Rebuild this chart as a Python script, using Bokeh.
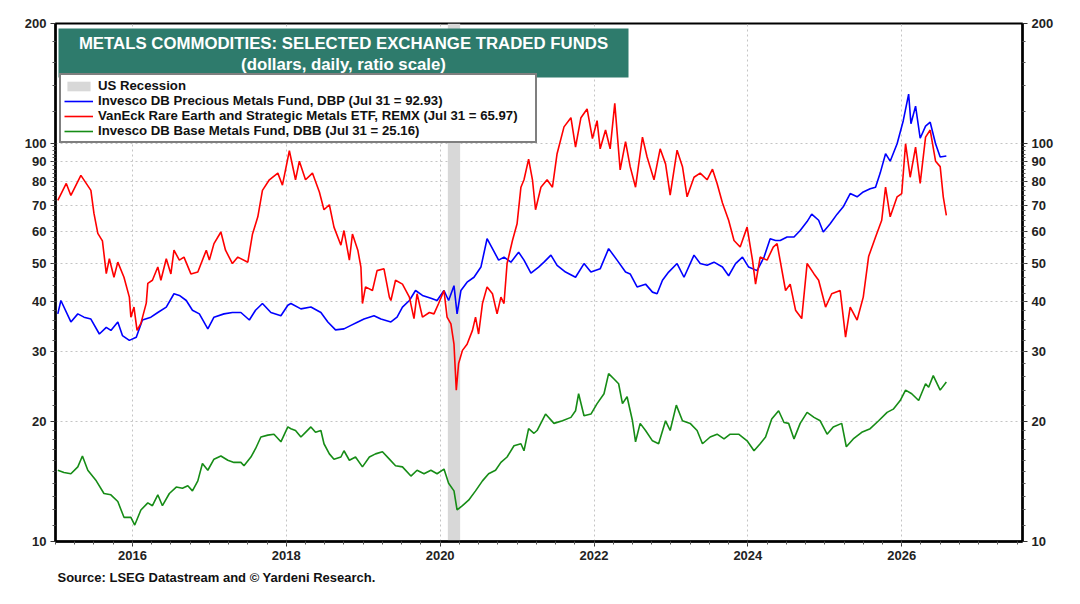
import math
from bokeh.plotting import figure
from bokeh.models import (FixedTicker, PrintfTickFormatter, LogAxis, BoxAnnotation,
                          Label, Legend, LegendItem, Title)
from bokeh.embed import file_html
from bokeh.resources import INLINE

# ---------------- data ----------------
remx_t = [2015.03, 2015.14, 2015.20, 2015.33, 2015.46, 2015.50, 2015.55, 2015.61, 2015.66, 2015.70,
          2015.76, 2015.81, 2015.89, 2015.96, 2015.98, 2016.02, 2016.06, 2016.11, 2016.18, 2016.20,
          2016.26, 2016.33, 2016.37, 2016.44, 2016.50, 2016.54, 2016.61, 2016.67, 2016.76, 2016.85,
          2016.96, 2017.00, 2017.06, 2017.15, 2017.21, 2017.30, 2017.37, 2017.50, 2017.56, 2017.63,
          2017.69, 2017.78, 2017.89, 2017.95, 2018.04, 2018.12, 2018.17, 2018.25, 2018.34, 2018.43,
          2018.49, 2018.56, 2018.62, 2018.71, 2018.75, 2018.82, 2018.86, 2018.93, 2018.97, 2018.99,
          2019.03, 2019.12, 2019.18, 2019.27, 2019.34, 2019.36, 2019.42, 2019.51, 2019.60, 2019.66,
          2019.70, 2019.77, 2019.86, 2019.92, 2019.98, 2020.05, 2020.09, 2020.14, 2020.18, 2020.21,
          2020.24, 2020.29, 2020.35, 2020.42, 2020.46, 2020.50, 2020.55, 2020.61, 2020.68, 2020.74,
          2020.79, 2020.83, 2020.87, 2020.94, 2021.00, 2021.05, 2021.09, 2021.15, 2021.20, 2021.24,
          2021.31, 2021.39, 2021.46, 2021.52, 2021.61, 2021.70, 2021.76, 2021.83, 2021.91, 2021.98,
          2022.04, 2022.08, 2022.15, 2022.21, 2022.27, 2022.34, 2022.41, 2022.47, 2022.54, 2022.63,
          2022.69, 2022.78, 2022.86, 2022.93, 2022.99, 2023.08, 2023.15, 2023.21, 2023.30, 2023.38,
          2023.47, 2023.54, 2023.60, 2023.67, 2023.75, 2023.82, 2023.90, 2023.99, 2024.06, 2024.10,
          2024.16, 2024.25, 2024.33, 2024.38, 2024.49, 2024.55, 2024.62, 2024.70, 2024.77, 2024.86,
          2024.92, 2025.01, 2025.09, 2025.20, 2025.27, 2025.33, 2025.42, 2025.50, 2025.57, 2025.66,
          2025.74, 2025.79, 2025.85, 2025.94, 2026.00, 2026.05, 2026.11, 2026.18, 2026.24, 2026.31,
          2026.37, 2026.44, 2026.50, 2026.54, 2026.58]
remx_v = [71.9, 79.3, 74.0, 83.1, 76.2, 66.7, 59.4, 56.9, 47.1, 51.3,
          46.1, 50.3, 46.1, 41.1, 36.6, 38.8, 33.9, 35.3, 39.7, 44.5,
          45.3, 48.9, 45.3, 51.3, 47.0, 53.9, 50.9, 51.8, 47.0, 47.5,
          53.9, 50.9, 56.0, 59.9, 53.9, 49.9, 51.8, 50.3, 59.1, 65.4,
          76.2, 81.0, 84.2, 78.5, 95.8, 81.0, 90.2, 81.0, 84.2, 75.5,
          68.1, 70.1, 61.6, 55.5, 60.4, 50.9, 59.2, 53.9, 48.9, 39.6,
          43.6, 42.7, 47.9, 48.4, 41.1, 40.3, 45.3, 44.3, 41.1, 36.3,
          41.9, 36.6, 37.6, 37.3, 39.6, 42.7, 36.6, 35.2, 31.3, 24.0,
          28.0, 30.2, 31.3, 33.9, 36.6, 33.2, 39.6, 43.6, 41.9, 37.3,
          41.1, 39.6, 49.9, 57.0, 62.8, 77.6, 81.0, 91.3, 81.0, 68.1,
          77.6, 81.0, 77.6, 94.2, 110.0, 116.0, 97.8, 116.0, 122.0, 102.8,
          114.0, 96.9, 108.0, 96.9, 126.0, 85.8, 101.0, 87.4, 77.6, 103.7,
          92.4, 81.0, 96.9, 88.8, 74.1, 96.1, 87.4, 73.4, 82.2, 84.2,
          81.0, 86.1, 79.3, 70.8, 64.1, 57.0, 54.9, 61.6, 50.9, 44.3,
          51.8, 50.9, 54.9, 56.0, 42.7, 44.3, 38.1, 36.3, 49.9, 47.0,
          45.3, 38.8, 41.9, 42.7, 32.6, 38.8, 36.0, 41.1, 52.0, 58.2,
          64.1, 77.6, 65.4, 73.4, 74.8, 99.8, 82.2, 97.8, 79.3, 103.7,
          108.0, 90.2, 87.4, 73.4, 65.97]

dbp_t = [2015.03, 2015.07, 2015.20, 2015.29, 2015.37, 2015.46, 2015.57, 2015.66, 2015.72, 2015.81,
         2015.87, 2015.96, 2016.05, 2016.13, 2016.24, 2016.33, 2016.44, 2016.54, 2016.61, 2016.70,
         2016.78, 2016.87, 2016.98, 2017.06, 2017.19, 2017.30, 2017.41, 2017.52, 2017.60, 2017.69,
         2017.80, 2017.93, 2018.02, 2018.06, 2018.19, 2018.32, 2018.45, 2018.54, 2018.64, 2018.75,
         2018.84, 2018.93, 2019.01, 2019.14, 2019.23, 2019.36, 2019.44, 2019.51, 2019.60, 2019.68,
         2019.77, 2019.88, 2019.96, 2020.05, 2020.11, 2020.18, 2020.22, 2020.27, 2020.35, 2020.44,
         2020.53, 2020.61, 2020.68, 2020.76, 2020.83, 2020.92, 2021.02, 2021.09, 2021.18, 2021.28,
         2021.35, 2021.44, 2021.52, 2021.63, 2021.76, 2021.87, 2021.96, 2022.08, 2022.19, 2022.30,
         2022.41, 2022.47, 2022.56, 2022.67, 2022.76, 2022.82, 2022.89, 2022.97, 2023.08, 2023.17,
         2023.30, 2023.38, 2023.47, 2023.56, 2023.67, 2023.75, 2023.84, 2023.93, 2024.01, 2024.12,
         2024.21, 2024.29, 2024.36, 2024.42, 2024.51, 2024.60, 2024.68, 2024.77, 2024.83, 2024.92,
         2024.98, 2025.07, 2025.16, 2025.24, 2025.33, 2025.42, 2025.50, 2025.59, 2025.66, 2025.72,
         2025.79, 2025.85, 2025.94, 2026.02, 2026.09, 2026.12, 2026.18, 2026.24, 2026.31, 2026.37,
         2026.44, 2026.50, 2026.58]
dbp_v = [37.3, 40.3, 35.6, 37.3, 36.6, 36.2, 33.2, 34.5, 33.9, 35.6,
         32.9, 32.0, 32.6, 36.0, 36.6, 37.6, 38.8, 41.9, 41.5, 40.3,
         38.1, 37.3, 34.2, 36.6, 37.3, 37.6, 37.6, 36.0, 38.1, 39.6,
         37.6, 36.9, 39.2, 39.6, 38.4, 38.8, 37.6, 35.6, 34.0, 34.2,
         34.9, 35.6, 36.2, 36.9, 36.2, 35.6, 36.6, 38.8, 40.3, 42.7,
         41.5, 40.8, 40.3, 42.7, 40.3, 43.9, 37.3, 42.7, 44.8, 46.1,
         48.9, 57.6, 54.4, 50.9, 51.8, 50.3, 53.3, 50.9, 47.2, 48.9,
         50.3, 52.4, 49.4, 47.5, 46.1, 49.9, 47.5, 48.4, 54.4, 50.9,
         47.5, 47.0, 43.6, 44.3, 42.3, 41.9, 45.3, 47.5, 49.9, 46.1,
         52.4, 49.9, 49.4, 50.3, 48.9, 46.5, 49.9, 51.8, 48.9, 47.9,
         51.8, 57.6, 57.0, 57.0, 58.2, 58.2, 60.4, 63.6, 66.4, 64.1,
         59.9, 62.8, 66.4, 69.3, 74.8, 73.4, 75.5, 76.9, 77.6, 84.2,
         94.2, 90.2, 99.8, 114.0, 133.0, 112.0, 124.0, 103.0, 110.5, 113.0,
         99.8, 92.4, 92.93]

dbb_t = [2015.03, 2015.11, 2015.20, 2015.29, 2015.35, 2015.42, 2015.53, 2015.63, 2015.72, 2015.81,
         2015.89, 2015.98, 2016.03, 2016.11, 2016.20, 2016.26, 2016.33, 2016.39, 2016.48, 2016.57,
         2016.65, 2016.72, 2016.78, 2016.85, 2016.91, 2016.98, 2017.06, 2017.15, 2017.24, 2017.32,
         2017.41, 2017.45, 2017.54, 2017.60, 2017.67, 2017.76, 2017.84, 2017.93, 2018.02, 2018.06,
         2018.12, 2018.19, 2018.25, 2018.32, 2018.38, 2018.45, 2018.49, 2018.56, 2018.62, 2018.71,
         2018.75, 2018.82, 2018.90, 2018.99, 2019.08, 2019.16, 2019.25, 2019.34, 2019.42, 2019.51,
         2019.62, 2019.70, 2019.79, 2019.88, 2019.96, 2020.05, 2020.11, 2020.18, 2020.22, 2020.29,
         2020.37, 2020.46, 2020.55, 2020.63, 2020.72, 2020.79, 2020.87, 2020.96, 2021.05, 2021.09,
         2021.15, 2021.22, 2021.26, 2021.37, 2021.48, 2021.59, 2021.70, 2021.76, 2021.80, 2021.87,
         2021.96, 2022.04, 2022.13, 2022.19, 2022.26, 2022.32, 2022.37, 2022.43, 2022.50, 2022.54,
         2022.60, 2022.67, 2022.76, 2022.84, 2022.93, 2022.99, 2023.07, 2023.15, 2023.25, 2023.34,
         2023.41, 2023.51, 2023.60, 2023.69, 2023.77, 2023.88, 2023.99, 2024.08, 2024.16, 2024.23,
         2024.31, 2024.40, 2024.47, 2024.53, 2024.60, 2024.68, 2024.77, 2024.86, 2024.94, 2025.03,
         2025.11, 2025.22, 2025.28, 2025.37, 2025.48, 2025.59, 2025.70, 2025.81, 2025.89, 2025.98,
         2026.05, 2026.13, 2026.22, 2026.31, 2026.35, 2026.41, 2026.50, 2026.58]
dbb_v = [15.1, 14.9, 14.8, 15.4, 16.4, 15.1, 14.2, 13.2, 13.1, 12.6,
         11.5, 11.5, 11.0, 12.0, 12.5, 12.3, 13.1, 12.3, 13.2, 13.7,
         13.6, 13.8, 13.4, 14.2, 15.7, 15.1, 16.1, 16.4, 16.0, 15.8,
         15.8, 15.5, 16.3, 17.1, 18.3, 18.5, 18.6, 17.8, 19.4, 19.2,
         19.0, 18.3, 18.8, 19.4, 18.8, 19.0, 17.6, 16.6, 16.1, 16.3,
         16.9, 16.0, 16.3, 15.4, 16.3, 16.6, 16.8, 16.1, 15.5, 15.4,
         14.6, 15.1, 14.8, 15.1, 14.8, 15.2, 14.0, 13.4, 12.0, 12.3,
         12.7, 13.4, 14.2, 14.8, 15.1, 15.8, 16.3, 17.4, 17.6, 16.9,
         19.2, 18.7, 19.0, 20.9, 19.8, 20.1, 20.5, 21.3, 23.5, 20.7,
         20.9, 22.2, 23.5, 26.4, 25.6, 24.9, 22.2, 23.1, 20.1, 17.8,
         19.8, 19.0, 17.9, 17.6, 20.1, 19.0, 22.0, 20.1, 19.8, 19.0,
         17.6, 18.3, 18.6, 18.1, 18.6, 18.6, 17.9, 16.9, 17.6, 18.3,
         20.3, 21.3, 19.9, 19.8, 18.1, 19.8, 21.1, 20.5, 20.1, 18.6,
         19.4, 19.8, 17.3, 18.1, 18.8, 19.2, 20.1, 21.1, 21.5, 22.6,
         24.0, 23.5, 22.6, 24.9, 24.4, 26.1, 24.0, 25.16]

recession_start = [2020.10]
recession_end = [2020.26]

x_tick_years = [2016, 2018, 2020, 2022, 2024, 2026]
y_tick_values = [10, 20, 30, 40, 50, 60, 70, 80, 90, 100, 200]

title_line1 = "METALS COMMODITIES: SELECTED EXCHANGE TRADED FUNDS"
title_line2 = "(dollars, daily, ratio scale)"
legend_labels = ["US Recession",
                 "Invesco DB Precious Metals Fund, DBP (Jul 31 = 92.93)",
                 "VanEck Rare Earth and Strategic Metals ETF, REMX (Jul 31 = 65.97)",
                 "Invesco DB Base Metals Fund, DBB (Jul 31 = 25.16)"]
source_text = "Source: LSEG Datastream and \u00a9 Yardeni Research."

# ---------------- layout ----------------
X0, X1 = 2015.0, 2027.57
Y0, Y1 = 10, 200
FW, FH = 967, 518
FONT = "Liberation Sans"


def fx(px):
    return X0 + (X1 - X0) * px / FW


def fy(py):
    l0, l1 = math.log10(Y0), math.log10(Y1)
    return 10 ** (l1 - (l1 - l0) * py / FH)


p = figure(width=1072, height=596, x_range=(X0, X1), y_range=(Y0, Y1),
           y_axis_type="log", output_backend="svg", toolbar_location=None,
           min_border_left=55, min_border_right=50, min_border_top=23,
           min_border_bottom=55, background_fill_color="white")
p.outline_line_color = "black"
p.outline_line_width = 2

minor_x = [2015 + 0.25 * i for i in range(0, 51)]
minor_y = ([v for v in range(11, 20)] + [v for v in range(22, 100, 2)] + [120, 140, 160, 180])

p.xaxis.ticker = FixedTicker(ticks=x_tick_years, minor_ticks=minor_x)
p.xaxis.formatter = PrintfTickFormatter(format="%d")
p.yaxis.ticker = FixedTicker(ticks=y_tick_values, minor_ticks=minor_y)
p.yaxis.formatter = PrintfTickFormatter(format="%d")

right_axis = LogAxis(ticker=FixedTicker(ticks=y_tick_values, minor_ticks=minor_y),
                     formatter=PrintfTickFormatter(format="%d"))
p.add_layout(right_axis, "right")

for ax in p.xaxis + p.yaxis + [right_axis]:
    ax.axis_line_color = "black"
    ax.axis_line_width = 2.5
    ax.major_tick_line_color = "#333333"
    ax.major_tick_out = 5
    ax.major_tick_in = 0
    ax.minor_tick_line_color = "#555555"
    ax.minor_tick_out = 3
    ax.minor_tick_in = 0
    ax.major_label_text_font = FONT
    ax.major_label_text_font_size = "13px"
    ax.major_label_text_font_style = "bold"
    ax.major_label_text_color = "#222222"
    ax.major_label_standoff = 4

p.xgrid.ticker = FixedTicker(ticks=x_tick_years)
p.ygrid.ticker = FixedTicker(ticks=[20, 30, 40, 50, 60, 70, 80, 90, 100])
for g in (p.xgrid, p.ygrid):
    g.grid_line_color = "#c4c4c4"
    g.grid_line_dash = "2 3"
    g.grid_line_width = 1

rec = p.quad(left=recession_start, right=recession_end, bottom=Y0, top=Y1,
             fill_color="#d8d8d8", line_color=None)
r_dbp = p.line(dbp_t, dbp_v, line_color="#0000ff", line_width=1.6)
r_remx = p.line(remx_t, remx_v, line_color="#ff0000", line_width=1.6)
r_dbb = p.line(dbb_t, dbb_v, line_color="#168c16", line_width=1.6)

# title box
p.add_layout(BoxAnnotation(left=fx(3), right=fx(573), top=fy(5), bottom=fy(54),
                           fill_color="#2e7b6c", fill_alpha=1, line_color=None))
for txt, py in ((title_line1, 19.5), (title_line2, 41)):
    p.add_layout(Label(x=fx(288), y=fy(py), text=txt, text_align="center",
                       text_baseline="middle", text_color="white",
                       text_font=FONT, text_font_size="16.8px", text_font_style="bold"))

legend = Legend(items=[LegendItem(label=legend_labels[0], renderers=[rec]),
                       LegendItem(label=legend_labels[1], renderers=[r_dbp]),
                       LegendItem(label=legend_labels[2], renderers=[r_remx]),
                       LegendItem(label=legend_labels[3], renderers=[r_dbb])],
                location=(4, FH - 120))
legend.border_line_color = "black"
legend.border_line_width = 2
legend.background_fill_color = "white"
legend.background_fill_alpha = 1
legend.label_text_font = FONT
legend.label_text_font_size = "13.2px"
legend.label_text_font_style = "bold"
legend.label_text_color = "#111111"
legend.label_height = 13
legend.label_width = 434
legend.glyph_height = 12
legend.glyph_width = 29
legend.label_standoff = 5
legend.spacing = -1
legend.padding = 3
legend.margin = 0
p.add_layout(legend)

src = Title(text=source_text, align="left", text_font=FONT, text_font_size="13px",
            text_font_style="bold", text_color="#111111", offset=2)
p.add_layout(src, "below")

open("out.html", "w").write(file_html(p, INLINE))
